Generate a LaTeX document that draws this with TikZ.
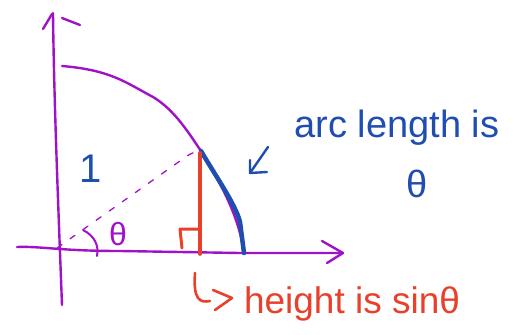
\documentclass[tikz,border=0pt]{standalone}
\usepackage{fontspec}
\setmainfont{Liberation Sans}
\definecolor{pen}{HTML}{A012C8}
\definecolor{bpen}{HTML}{1F4DB0}
\definecolor{rpen}{HTML}{E8402A}
\begin{document}
\begin{tikzpicture}[x=1pt,y=-1pt,line cap=round,line join=round,
  axis/.style={pen,line width=2.4pt},
  bluestroke/.style={bpen,line width=4.5pt},
  redstroke/.style={rpen,line width=3.6pt},
  lbl/.style={inner sep=0pt,anchor=base}]
\useasboundingbox (0,0) rectangle (518,334);
% named points
\coordinate (O) at (57,248);
\coordinate (P) at (201,151);
\coordinate (A) at (244,253);
\coordinate (Ytop) at (53,13);
\coordinate (Ybot) at (62,305);
\coordinate (Xl) at (17,247);
\coordinate (Xr) at (343,253);
% axes
\draw[axis] (Ybot) .. controls (58,200) and (54,100) .. (Ytop);
\draw[axis] (43,29) -- (52,14);
\draw[axis] (62,18) -- (80,25);
\draw[axis] (Xl) .. controls (40,246) and (60,251) .. (120,251) -- (240,253) -- (Xr);
\draw[axis] (322,241) -- (Xr) -- (327,263);
% arc
\draw[axis] (62,66) .. controls (110,70) and (125,82) .. (153,97)
  .. controls (175,110) and (190,135) .. (P)
  .. controls (215,175) and (238,210) .. (A);
\draw[bluestroke] (P) .. controls (215,175) and (236,205) .. (240,222) -- (A);
% dashed radius
\draw[pen,line width=1.3pt,dash pattern=on 6pt off 10pt] (O) -- (187,156) .. controls (192,153) and (196,151) .. (P);
% angle arc
\draw[pen,line width=2pt] (83,230) .. controls (95,236) and (99,246) .. (97,256);
% red height
\draw[redstroke] (200,153) -- (200,254);
\draw[rpen,line width=3pt] (182,248) -- (180,229) -- (199,229);
% blue arrow
\draw[bpen,line width=2.4pt] (268,147) -- (250,173);
\draw[bpen,line width=2.4pt] (250,160) -- (250,173) -- (267,172);
% red hook arrow
\draw[rpen,line width=2.6pt] (195,273) .. controls (193,300) and (200,303) .. (210,301);
\draw[rpen,line width=2.6pt] (213,290) -- (232,298) -- (215,310);
% labels
\node[lbl,text=bpen,font=\fontsize{40}{44}\selectfont] (one) at (91,182) {1};
\node[lbl,text=pen,font=\fontsize{32}{36}\selectfont] (th) at (118,245) {θ};
\node[lbl,text=bpen,font=\fontsize{38}{42}\selectfont] (arcl) at (397,137) {arc length is};
\node[lbl,text=bpen,font=\fontsize{38}{42}\selectfont] (th2) at (417,197) {θ};
\node[lbl,text=rpen,font=\fontsize{37}{42}\selectfont] (ht) at (352,313) {height is sinθ};
\end{tikzpicture}
\end{document}
